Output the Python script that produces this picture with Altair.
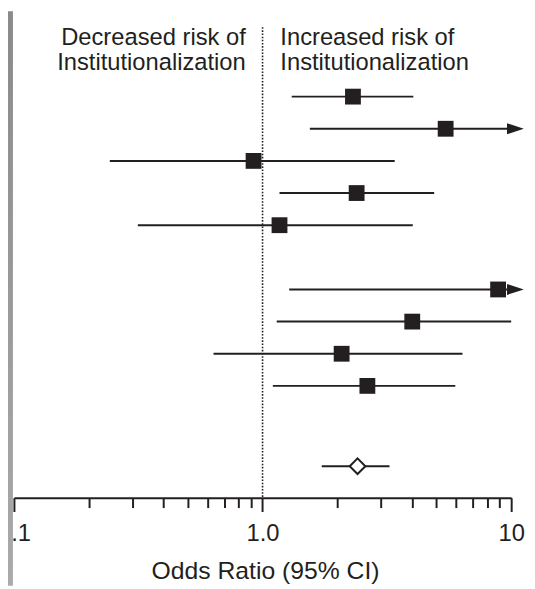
import altair as alt
import pandas as pd

# ---- data ----
rows = [1, 2, 3, 4, 5, 7, 8, 9, 10]                      # study row order (row 6 is a gap)
odds = [2.31, 5.45, 0.92, 2.39, 1.17, 8.86, 4.00, 2.08, 2.64]
lower = [1.31, 1.55, 0.243, 1.17, 0.315, 1.28, 1.14, 0.635, 1.10]
upper = [4.04, 10.4, 3.40, 4.90, 4.02, 10.4, 10.0, 6.37, 5.96]   # 10.4 = off scale (arrow)
off_scale = [False, True, False, False, False, True, False, False, False]

pooled_row = [12.5]
pooled_or = [2.41]
pooled_lo = [1.73]
pooled_hi = [3.24]

major_ticks = [0.1, 1, 10]
minor_ticks = [0.2, 0.3, 0.4, 0.5, 0.6, 0.7, 0.8, 0.9, 2, 3, 4, 5, 6, 7, 8, 9]
header_left = ["Decreased risk of", "Institutionalization"]
header_right = ["Increased risk of", "Institutionalization"]
x_title = "Odds Ratio (95% CI)"

FONT = "Liberation Sans"
INK = "#231f20"

studies = pd.DataFrame({"row": rows, "or": odds, "lo": lower, "hi": upper, "off": off_scale})
pooled = pd.DataFrame({"row": pooled_row, "or": pooled_or, "lo": pooled_lo, "hi": pooled_hi})
arrows = studies[studies["off"]]

label_expr = ("datum.value == 0.1 ? '0.1' : datum.value == 1 ? '1.0' : "
              "datum.value == 10 ? '10' : ''")
major_test = "datum.value == 0.1 || datum.value == 1 || datum.value == 10"

xscale = alt.Scale(type="log", domain=[0.1, 10], nice=False)
yscale = alt.Scale(domain=[-1.162, 13.479], reverse=True, nice=False, zero=False)

xaxis = alt.Axis(
    values=sorted(major_ticks + minor_ticks),
    labelExpr=label_expr,
    tickSize={"condition": {"test": major_test, "value": 14}, "value": 10},
    tickWidth=2, tickColor=INK, domainColor=INK, domainWidth=2,
    labelFont=FONT, labelFontSize=24, labelColor=INK, labelPadding=10,
    labelOverlap=False, labelFlush=False, labelBound=False,
    grid=False, title=x_title, titleFont=FONT, titleFontSize=25,
    titleFontWeight="normal", titleColor=INK, titleBaseline="alphabetic",
    titleY=82, titleX=254, zindex=0,
)

X = lambda f: alt.X(f, type="quantitative", scale=xscale, axis=xaxis)
Y = lambda f: alt.Y(f, type="quantitative", scale=yscale, axis=None)

ref_line = alt.Chart(pd.DataFrame({"v": [1]})).mark_rule(
    color=INK, strokeWidth=1.6, strokeDash=[1.6, 1.6]
).encode(x=X("v:Q"))

ci = alt.Chart(studies).mark_rule(color=INK, strokeWidth=2).encode(
    x=X("lo:Q"), x2="hi:Q", y=Y("row:Q")
)
squares = alt.Chart(studies).mark_square(size=256, color=INK, opacity=1).encode(
    x=X("or:Q"), y=Y("row:Q")
)
heads = alt.Chart(arrows).mark_point(
    shape="M-1,-0.65L1,0L-1,0.65Z", size=289, filled=True, color=INK, opacity=1
).encode(x=X("hi:Q"), y=Y("row:Q"))

pci = alt.Chart(pooled).mark_rule(color=INK, strokeWidth=2).encode(
    x=X("lo:Q"), x2="hi:Q", y=Y("row:Q")
)
diamond = alt.Chart(pooled).mark_point(
    shape="diamond", size=250, filled=True, fill="white", stroke=INK,
    strokeWidth=2, opacity=1
).encode(x=X("or:Q"), y=Y("row:Q"))

hdr_l = alt.Chart(pd.DataFrame({"v": [1]})).mark_text(
    text=header_left, align="right", baseline="alphabetic", dx=-17,
    font=FONT, fontSize=24, lineHeight=25, color=INK
).encode(x=X("v:Q"), y=alt.datum(-0.609, scale=yscale))
hdr_r = alt.Chart(pd.DataFrame({"v": [1]})).mark_text(
    text=header_right, align="left", baseline="alphabetic", dx=18,
    font=FONT, fontSize=24, lineHeight=25, color=INK
).encode(x=X("v:Q"), y=alt.datum(-0.609, scale=yscale))

# slide frame strip on the left edge (decoration)
strip = alt.Chart(pd.DataFrame({"a": [0]})).mark_rect(
    color=alt.LinearGradient(
        gradient="linear",
        stops=[alt.GradientStop(color="#8a8a8a", offset=0),
               alt.GradientStop(color="#aaaaaa", offset=1)],
        x1=0, x2=0, y1=0, y2=1,
    )
).encode(x=alt.value(-6), x2=alt.value(-1), y=alt.value(-16), y2=alt.value(565))

chart = alt.layer(
    ref_line, ci, pci, squares, heads, diamond, hdr_l, hdr_r, strip
).properties(
    width=503, height=476,
    autosize=alt.AutoSizeParams(type="none"),
    padding={"left": 6, "top": 16, "right": 16, "bottom": 89},
    view=alt.ViewBackground(strokeWidth=0, strokeOpacity=0, fill="white"),
).configure_view(strokeWidth=0, strokeOpacity=0).configure(
    background="white"
)

chart.save("out.html", embed_options={"renderer": "svg", "actions": False})
